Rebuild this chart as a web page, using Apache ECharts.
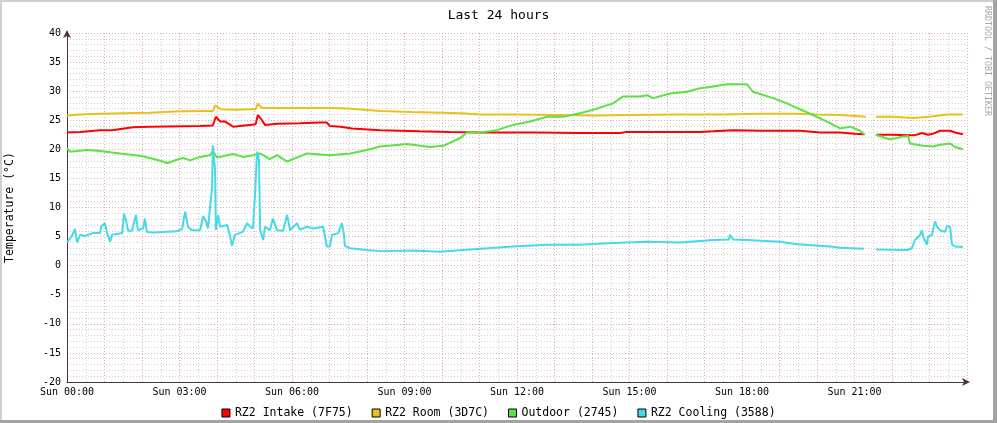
<!DOCTYPE html>
<html>
<head>
<meta charset="utf-8">
<script src="https://cdn.jsdelivr.net/npm/echarts@6/dist/echarts.min.js"></script>
<style>
  html, body { margin: 0; padding: 0; background: #ffffff; }
  #chart { width: 997px; height: 423px; }
</style>
</head>
<body>
<div id="chart"></div>
<script>
// ---- data (time in hours since Sun 00:00, temperature in °C) ----
const seriesNames = ['RZ2 Intake (7F75)', 'RZ2 Room (3D7C)', 'Outdoor (2745)', 'RZ2 Cooling (3588)'];
const xTickLabels = ['Sun 00:00', 'Sun 03:00', 'Sun 06:00', 'Sun 09:00', 'Sun 12:00', 'Sun 15:00', 'Sun 18:00', 'Sun 21:00'];
const yTickValues = [-20, -15, -10, -5, 0, 5, 10, 15, 20, 25, 30, 35, 40];

const intake = [
  [0,22.9],[0.35,23.0],[0.88,23.3],[1.2,23.3],[1.76,23.8],[2.2,23.9],[3.55,24.0],[3.89,24.1],
  [3.97,25.6],[4.08,24.8],[4.21,24.8],[4.43,23.9],[4.6,24.0],[4.88,24.2],[5.03,24.3],[5.09,25.9],
  [5.2,25.0],[5.28,24.2],[5.6,24.4],[6.21,24.5],[6.75,24.6],[6.93,24.6],[7.01,24.0],[7.3,23.9],
  [7.6,23.6],[8.35,23.3],[9.41,23.1],[10.2,23.0],[11.01,22.9],[12.5,22.9],[13.68,22.8],[14.75,22.8],
  [14.93,23.0],[15.5,23.0],[16.88,23.0],[17.23,23.1],[17.76,23.3],[18.5,23.2],[19.55,23.2],[20.08,22.9],
  [20.61,22.9],[21.0,22.7],[21.25,22.6],[21.42,'-'],[21.57,22.5],[22.0,22.5],[22.48,22.4],[22.6,22.4],
  [22.8,22.8],[22.96,22.5],[23.1,22.7],[23.28,23.2],[23.55,23.2],[23.68,22.9],[23.89,22.6]
];
const room = [
  [0,25.8],[0.35,26.0],[0.9,26.1],[1.5,26.2],[2.2,26.3],[2.9,26.5],[3.55,26.6],[3.89,26.6],
  [3.95,27.5],[4.1,26.9],[4.5,26.8],[4.88,26.9],[5.03,26.9],[5.09,27.8],[5.2,27.1],[5.8,27.1],
  [6.5,27.1],[7.0,27.1],[7.5,27.0],[8.35,26.6],[9.2,26.4],[10.5,26.2],[11.01,26.0],[12.0,26.0],
  [13.0,25.9],[14.13,25.8],[15.0,25.9],[16.35,26.0],[17.5,26.0],[18.5,26.1],[19.47,26.1],[20.0,26.0],
  [20.6,25.9],[21.3,25.6],[21.42,'-'],[21.57,25.6],[22.0,25.6],[22.56,25.4],[23.0,25.6],[23.47,26.0],[23.89,26.0]
];
const outdoor = [
  [0,20.2],[0.08,19.6],[0.53,19.9],[0.88,19.7],[1.41,19.3],[1.95,18.9],[2.21,18.5],[2.56,17.9],
  [2.67,17.6],[2.93,18.2],[3.09,18.5],[3.28,18.1],[3.55,18.7],[3.81,19.0],[3.89,19.7],[4.0,18.6],
  [4.43,19.2],[4.69,18.7],[4.96,19.0],[5.15,19.3],[5.41,18.3],[5.6,19.0],[5.87,17.9],[6.4,19.3],
  [7.01,19.0],[7.55,19.3],[8.0,19.9],[8.35,20.5],[9.07,20.9],[9.68,20.4],[10.03,20.6],[10.48,21.9],
  [10.67,22.9],[11.01,22.9],[11.47,23.3],[11.89,24.2],[12.35,24.8],[12.8,25.6],[13.23,25.6],[13.68,26.2],
  [14.03,26.8],[14.56,27.9],[14.83,29.1],[15.28,29.1],[15.47,29.3],[15.63,28.8],[16.08,29.6],[16.53,29.9],
  [16.88,30.5],[17.15,30.7],[17.6,31.2],[17.95,31.2],[18.13,31.2],[18.29,29.9],[18.83,28.8],[19.2,27.9],
  [19.47,27.1],[19.89,25.9],[20.35,24.5],[20.61,23.6],[20.88,23.9],[21.15,23.2],[21.28,22.5],[21.42,'-'],
  [21.57,22.5],[21.95,21.7],[22.29,22.2],[22.43,22.3],[22.48,21.0],[22.83,20.6],[23.09,20.5],[23.28,20.8],
  [23.55,21.0],[23.68,20.4],[23.89,20.0]
];
const cooling = [
  [0,4.0],[0.13,5.1],[0.21,6.3],[0.27,4.0],[0.35,5.3],[0.48,5.1],[0.69,5.6],[0.88,5.6],
  [0.91,6.7],[1.01,7.3],[1.07,5.6],[1.15,4.1],[1.2,5.3],[1.47,5.6],[1.52,8.9],[1.57,7.9],
  [1.63,6.0],[1.73,6.0],[1.84,8.7],[1.89,6.1],[2.03,6.4],[2.08,8.1],[2.13,5.8],[2.29,5.7],
  [2.93,5.9],[3.07,6.3],[3.15,9.3],[3.23,6.7],[3.33,6.1],[3.55,6.1],[3.63,8.5],[3.71,7.6],
  [3.76,6.4],[3.81,6.1],[3.87,13.6],[3.89,20.7],[3.95,16.4],[3.97,6.1],[4.03,8.7],[4.08,6.7],
  [4.27,7.0],[4.32,6.7],[4.35,5.0],[4.4,3.4],[4.45,3.4],[4.48,5.3],[4.69,5.8],[4.8,7.3],
  [4.88,6.7],[4.96,6.4],[5.01,11.9],[5.07,19.6],[5.12,18.2],[5.15,6.1],[5.23,4.4],[5.28,6.7],
  [5.41,6.1],[5.49,8.1],[5.6,6.1],[5.76,6.0],[5.87,8.7],[5.95,6.1],[6.13,7.3],[6.21,6.2],
  [6.4,6.7],[6.56,6.4],[6.83,6.7],[6.88,5.0],[6.93,3.3],[7.01,3.3],[7.07,5.3],[7.23,5.6],
  [7.33,7.3],[7.38,5.6],[7.41,3.4],[7.55,3.0],[8.0,2.7],[8.35,2.5],[9.23,2.6],[9.95,2.4],
  [10.56,2.7],[11.89,3.3],[12.8,3.6],[13.68,3.6],[14.56,3.9],[15.47,4.1],[16.35,4.0],[17.23,4.4],
  [17.65,4.5],[17.68,5.3],[17.76,4.5],[18.13,4.4],[19.01,4.1],[19.47,3.7],[20.35,3.3],[20.61,3.1],
  [21.25,2.9],[21.42,'-'],[21.57,2.8],[22.4,2.7],[22.53,3.0],[22.61,4.4],[22.75,5.3],[22.8,6.1],
  [22.83,5.0],[22.93,3.6],[22.96,5.0],[23.07,5.3],[23.09,6.1],[23.15,7.6],[23.2,6.7],[23.28,6.1],
  [23.41,5.8],[23.47,6.8],[23.55,6.7],[23.6,3.6],[23.68,3.3],[23.89,3.2]
];
const seriesData = [intake, room, outdoor, cooling];
const seriesColors = ['#ff0000', '#e9c11b', '#5ce244', '#46d9e8'];

// ---- chart ----
const FONT = 'DejaVu Sans Mono';
const chart = echarts.init(document.getElementById('chart'), null, { renderer: 'canvas' });

const majorGrid = { show: true, lineStyle: { color: '#e9a9a9', width: 1, type: [1, 2] } };
const minorGrid = { show: true, lineStyle: { color: '#cfcfcf', width: 1, type: [1, 2] } };
const axisLine = {
  show: true, onZero: false,
  lineStyle: { color: '#4d3434', width: 1 },
  symbol: ['none', 'arrow'], symbolSize: [6, 8], symbolOffset: [0, 3]
};

chart.setOption({
  animation: false,
  backgroundColor: '#ffffff',
  title: {
    text: 'Last 24 hours', left: 'center', top: 4,
    textStyle: { fontFamily: FONT, fontSize: 13, fontWeight: 'normal', color: '#000' }
  },
  legend: {
    data: seriesNames, left: 'center', top: 402,
    icon: 'rect', itemWidth: 8, itemHeight: 8, itemGap: 19,
    textStyle: { fontFamily: FONT, fontSize: 11.5, color: '#000' },
    itemStyle: { borderColor: '#000', borderWidth: 1 }
  },
  grid: { left: 67, right: 30, top: 33, bottom: 41, containLabel: false, outerBoundsMode: 'none' },
  xAxis: {
    type: 'value', min: 0, max: 24, interval: 1,
    axisLine: axisLine,
    axisTick: { show: false },
    axisLabel: {
      fontFamily: FONT, fontSize: 10, color: '#000', margin: 5,
      formatter: v => (v % 3 === 0 && xTickLabels[v / 3]) ? xTickLabels[v / 3] : ''
    },
    splitLine: majorGrid,
    minorTick: { show: false, splitNumber: 2 },
    minorSplitLine: minorGrid
  },
  yAxis: {
    type: 'value', min: yTickValues[0], max: yTickValues[yTickValues.length - 1], interval: 5,
    name: 'Temperature (°C)', nameLocation: 'middle', nameRotate: 90, nameGap: 51,
    nameTextStyle: { fontFamily: FONT, fontSize: 11.5, color: '#000' },
    axisLine: axisLine,
    axisTick: { show: false },
    axisLabel: { fontFamily: FONT, fontSize: 10, color: '#000', margin: 6 },
    splitLine: majorGrid,
    minorTick: { show: false, splitNumber: 5 },
    minorSplitLine: minorGrid
  },
  graphic: [
    { type: 'rect', shape: { x: 0, y: 0, width: 997, height: 2 }, style: { fill: '#cfcfcf' }, silent: true },
    { type: 'rect', shape: { x: 0, y: 0, width: 2, height: 423 }, style: { fill: '#cfcfcf' }, silent: true },
    { type: 'rect', shape: { x: 993, y: 0, width: 4, height: 423 }, style: { fill: '#a3a3a3' }, silent: true },
    { type: 'rect', shape: { x: 0, y: 420, width: 997, height: 3 }, style: { fill: '#a3a3a3' }, silent: true },
    {
      type: 'text', x: 987, y: 6, rotation: -Math.PI / 2, silent: true,
      style: { text: 'RRDTOOL / TOBI OETIKER', fill: '#a8a8a8', font: '8.3px "DejaVu Sans Mono"',
               textAlign: 'left', textVerticalAlign: 'middle' }
    }
  ],
  series: seriesData.map((d, i) => ({
    name: seriesNames[i], type: 'line', data: d,
    showSymbol: false, connectNulls: false,
    color: seriesColors[i],
    lineStyle: { width: 2, color: seriesColors[i] },
    emphasis: { disabled: true }
  }))
});
</script>
</body>
</html>
